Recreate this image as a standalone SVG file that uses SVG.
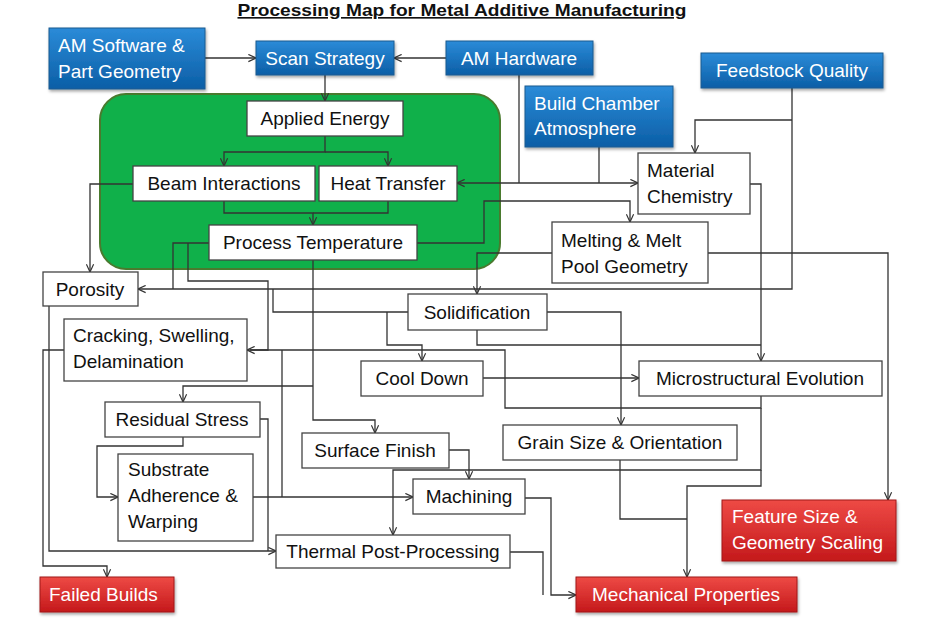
<svg xmlns="http://www.w3.org/2000/svg" width="926" height="625" viewBox="0 0 926 625">
<style>
.t{font-family:"Liberation Sans",Arial,sans-serif;font-size:19px;fill:#111}
.w{font-family:"Liberation Sans",Arial,sans-serif;font-size:19px;fill:#fff}
.c{text-anchor:middle}
.box{fill:#fff;stroke:#444;stroke-width:1.3}
.blue{fill:url(#gb);stroke:#1a5a90;stroke-width:1;filter:url(#sh)}
.red{fill:url(#gr);stroke:#a01818;stroke-width:1;filter:url(#sh)}
.ln{fill:none;stroke:#333;stroke-width:1.3}
.a{marker-end:url(#ar)}
</style>
<defs>
<linearGradient id="gb" x1="0" y1="0" x2="0" y2="1"><stop offset="0" stop-color="#2b8bd8"/><stop offset="1" stop-color="#0b5ea6"/></linearGradient>
<linearGradient id="gr" x1="0" y1="0" x2="0" y2="1"><stop offset="0" stop-color="#ee4a45"/><stop offset="1" stop-color="#c4191b"/></linearGradient>
<filter id="sh" x="-10%" y="-10%" width="125%" height="140%"><feDropShadow dx="1" dy="2" stdDeviation="1.5" flood-color="#000" flood-opacity="0.35"/></filter>
<marker id="ar" viewBox="0 0 10 10" refX="9.5" refY="5" markerWidth="9" markerHeight="9" markerUnits="userSpaceOnUse" orient="auto-start-reverse"><path d="M1,1 L9.5,5 L1,9" fill="none" stroke="#333" stroke-width="1.3"/></marker>
</defs>
<rect width="926" height="625" fill="#fff"/>
<text x="462" y="16" text-anchor="middle" font-family="'Liberation Sans',Arial,sans-serif" font-size="16.5" font-weight="bold" text-decoration="underline" fill="#111" textLength="449" lengthAdjust="spacingAndGlyphs">Processing Map for Metal Additive Manufacturing</text>

<g id="process-zone"><rect x="100" y="94" width="400" height="175" rx="26" fill="#10b04a" stroke="#4a7a2e" stroke-width="2"/></g>

<g id="connectors">
<path class="ln a" d="M205,58 H256"/>
<path class="ln a" d="M446,58 H394"/>
<path class="ln a" d="M325,75 V101"/>
<path class="ln a" d="M325,136 V152 H224 V166"/>
<path class="ln a" d="M325,152 H388 V166"/>
<path class="ln a" d="M224,201 V213 H313 V225"/>
<path class="ln" d="M388,201 V213 H313"/>
<path class="ln a" d="M133,184 H90 V272"/>
<path class="ln" d="M209,243 H173 V289"/>
<path class="ln a" d="M188,243 V281 H268 V350 H247"/>
<path class="ln a" d="M792,88 V289 H138"/>
<path class="ln a" d="M792,120 H695 V153"/>
<path class="ln a" d="M457,183 H638" style="marker-start:url(#ar)"/>
<path class="ln" d="M519,75 V183"/>
<path class="ln" d="M599,147 V183"/>
<path class="ln a" d="M417,243 H484 V201 H630 V222"/>
<path class="ln a" d="M750,184 H761 V361"/>
<path class="ln a" d="M552,253 H477 V294"/>
<path class="ln a" d="M708,253 H888 V500"/>
<path class="ln" d="M408,312 H273 V289"/>
<path class="ln a" d="M387,312 V345 H422 V361"/>
<path class="ln" d="M477,330 V345 H761"/>
<path class="ln a" d="M547,312 H621 V425"/>
<path class="ln a" d="M483,378 H639"/>
<path class="ln" d="M761,396 V408 H505 V350 H250"/>
<path class="ln" d="M282,497 V350"/>
<path class="ln a" d="M313,260 V420 H375 V433"/>
<path class="ln a" d="M313,386 H183 V402"/>
<path class="ln a" d="M183,437 V446 H97 V497 H118"/>
<path class="ln" d="M260,419 H268 V551"/>
<path class="ln a" d="M49,306 V551 H276"/>
<path class="ln a" d="M64,350 H43 V566 H107 V577"/>
<path class="ln a" d="M253,497 H413"/>
<path class="ln a" d="M449,450 H469 V479"/>
<path class="ln a" d="M761,408 V470 H393 V535"/>
<path class="ln a" d="M761,470 V486 H687 V577"/>
<path class="ln" d="M620,460 V519 H687"/>
<path class="ln a" d="M525,498 H551 V595 H576"/>
<path class="ln" d="M510,552 H543 V595"/>
</g>

<g id="am-software"><rect class="blue" x="49" y="28" width="156" height="61"/><text class="w" x="58" y="52">AM Software &amp;</text><text class="w" x="58" y="78">Part Geometry</text></g>
<g id="scan-strategy"><rect class="blue" x="256" y="41" width="138" height="34"/><text class="w c" x="325" y="65">Scan Strategy</text></g>
<g id="am-hardware"><rect class="blue" x="446" y="41" width="147" height="34"/><text class="w c" x="519" y="65">AM Hardware</text></g>
<g id="build-chamber"><rect class="blue" x="525" y="86" width="148" height="61"/><text class="w" x="534" y="110">Build Chamber</text><text class="w" x="534" y="135">Atmosphere</text></g>
<g id="feedstock"><rect class="blue" x="701" y="53" width="182" height="35"/><text class="w c" x="792" y="77">Feedstock Quality</text></g>

<g id="applied-energy"><rect class="box" x="247" y="101" width="156" height="35"/><text class="t c" x="325" y="125">Applied Energy</text></g>
<g id="beam-interactions"><rect class="box" x="133" y="166" width="182" height="35"/><text class="t c" x="224" y="190">Beam Interactions</text></g>
<g id="heat-transfer"><rect class="box" x="319" y="166" width="138" height="35"/><text class="t c" x="388" y="190">Heat Transfer</text></g>
<g id="process-temperature"><rect class="box" x="209" y="225" width="208" height="35"/><text class="t c" x="313" y="249">Process Temperature</text></g>
<g id="material-chemistry"><rect class="box" x="638" y="153" width="112" height="61"/><text class="t" x="647" y="177">Material</text><text class="t" x="647" y="203">Chemistry</text></g>
<g id="melting"><rect class="box" x="552" y="222" width="156" height="61"/><text class="t" x="561" y="247">Melting &amp; Melt</text><text class="t" x="561" y="273">Pool Geometry</text></g>
<g id="porosity"><rect class="box" x="43" y="272" width="95" height="34"/><text class="t c" x="90" y="296">Porosity</text></g>
<g id="solidification"><rect class="box" x="408" y="294" width="139" height="36"/><text class="t c" x="477" y="319">Solidification</text></g>
<g id="cracking"><rect class="box" x="64" y="319" width="183" height="62"/><text class="t" x="73" y="342">Cracking, Swelling,</text><text class="t" x="73" y="368">Delamination</text></g>
<g id="cool-down"><rect class="box" x="361" y="361" width="122" height="35"/><text class="t c" x="422" y="385">Cool Down</text></g>
<g id="microstructural"><rect class="box" x="639" y="361" width="243" height="35"/><text class="t c" x="760" y="385">Microstructural Evolution</text></g>
<g id="residual-stress"><rect class="box" x="105" y="402" width="155" height="35"/><text class="t c" x="182" y="426">Residual Stress</text></g>
<g id="grain-size"><rect class="box" x="503" y="425" width="234" height="35"/><text class="t c" x="620" y="449">Grain Size &amp; Orientation</text></g>
<g id="surface-finish"><rect class="box" x="302" y="433" width="147" height="35"/><text class="t c" x="375" y="457">Surface Finish</text></g>
<g id="substrate"><rect class="box" x="118" y="454" width="135" height="87"/><text class="t" x="128" y="476">Substrate</text><text class="t" x="128" y="502">Adherence &amp;</text><text class="t" x="128" y="528">Warping</text></g>
<g id="machining"><rect class="box" x="413" y="479" width="112" height="35"/><text class="t c" x="469" y="503">Machining</text></g>
<g id="thermal-post"><rect class="box" x="276" y="535" width="234" height="33"/><text class="t c" x="393" y="558">Thermal Post-Processing</text></g>

<g id="feature-size"><rect class="red" x="722" y="500" width="174" height="61"/><text class="w" x="732" y="523">Feature Size &amp;</text><text class="w" x="732" y="549">Geometry Scaling</text></g>
<g id="failed-builds"><rect class="red" x="40" y="577" width="134" height="35"/><text class="w" x="49" y="601">Failed Builds</text></g>
<g id="mechanical-properties"><rect class="red" x="576" y="577" width="221" height="35"/><text class="w c" x="686" y="601">Mechanical Properties</text></g>
</svg>
